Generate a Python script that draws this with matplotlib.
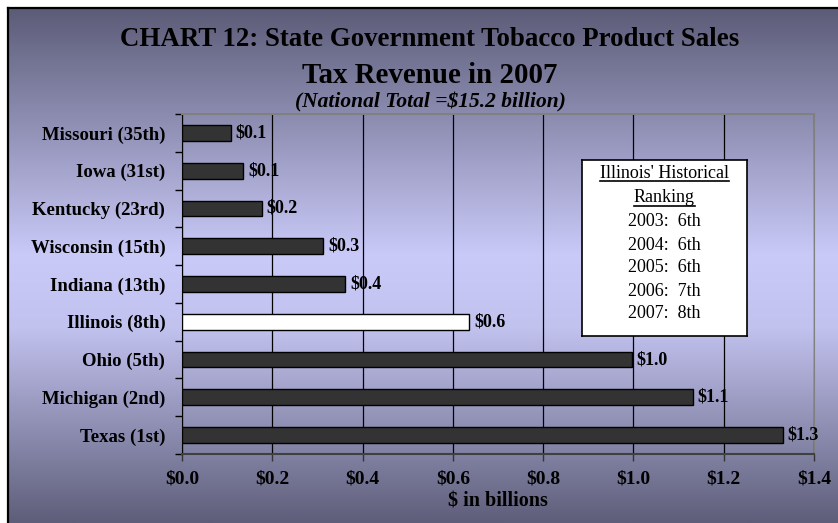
import numpy as np
import matplotlib
matplotlib.use("Agg")
import matplotlib.pyplot as plt
from matplotlib.colors import LinearSegmentedColormap
from matplotlib.lines import Line2D

# ---- data ----
states = ["Missouri (35th)", "Iowa (31st)", "Kentucky (23rd)", "Wisconsin (15th)",
          "Indiana (13th)", "Illinois (8th)", "Ohio (5th)", "Michigan (2nd)", "Texas (1st)"]
revenue = [0.108, 0.136, 0.177, 0.313, 0.362, 0.636, 0.996, 1.131, 1.331]
value_labels = ["$0.1", "$0.1", "$0.2", "$0.3", "$0.4", "$0.6", "$1.0", "$1.1", "$1.3"]
highlight = "Illinois (8th)"
x_ticks = [0.0, 0.2, 0.4, 0.6, 0.8, 1.0, 1.2, 1.4]
x_ticklabels = ["$0.0", "$0.2", "$0.4", "$0.6", "$0.8", "$1.0", "$1.2", "$1.4"]
history_title = ["Illinois' Historical", "Ranking"]
history_rows = ["2003:  6th", "2004:  6th", "2005:  6th", "2006:  7th", "2007:  8th"]

W, H = 838, 523
DPI = 100
fig = plt.figure(figsize=(W / DPI, H / DPI), dpi=DPI)
fig.patch.set_facecolor("white")

def fx(px):
    return px / W

def fy(py):
    return 1 - py / H

SERIF = ["Liberation Serif", "DejaVu Serif"]

# ---- gradient background ----
bg = fig.add_axes([fx(8), 0, 1 - fx(8), fy(8)], zorder=-5)
cmap = LinearSegmentedColormap.from_list(
    "bg", [(0.0, "#5c5c78"), (0.48, "#cacaf9"), (0.62, "#c2c2ef"), (1.0, "#5e5e7a")])
grad = np.linspace(0, 1, 256).reshape(-1, 1)
bg.imshow(grad, aspect="auto", cmap=cmap, extent=[0, 1, 1, 0])
bg.set_xticks([]); bg.set_yticks([])
for s in ["right", "bottom"]:
    bg.spines[s].set_visible(False)
for s in ["left", "top"]:
    bg.spines[s].set_linewidth(1.6)
    bg.spines[s].set_color("black")

# ---- main axes ----
left, right, top, bottom = 182, 814, 114, 454
ax = fig.add_axes([fx(left), fy(bottom), fx(right - left), (bottom - top) / H])
ax.patch.set_alpha(0)

n = len(states)
ypos = np.arange(n)
colors = ["white" if s == highlight else "#333333" for s in states]
ax.barh(ypos, revenue, height=0.42, color=colors, edgecolor="black", linewidth=1.0, zorder=3)
ax.set_ylim(n - 0.5, -0.5)
ax.set_xlim(0, 1.4)

for y, v, lab in zip(ypos, revenue, value_labels):
    ax.annotate(lab.replace("$", r"\$"), (v, y), xytext=(3.5, 0), textcoords="offset points",
                va="center", ha="left", fontsize=13, fontweight="bold",
                family=SERIF, zorder=4)

ax.set_yticks(ypos)
ax.set_yticklabels(states, fontsize=13.5, fontweight="bold", family=SERIF)
ax.tick_params(axis="y", which="major", length=0, pad=12)
ax.set_yticks(np.arange(-0.5, n, 1), minor=True)
ax.tick_params(axis="y", which="minor", length=5, width=1, direction="out", color="black")

ax.set_xticks(x_ticks)
ax.set_xticklabels([t.replace("$", r"\$") for t in x_ticklabels], fontsize=14,
                   fontweight="bold", family=SERIF)
ax.tick_params(axis="x", length=5, width=1, direction="out", color="#333333", pad=7)
ax.set_xlabel(r"\$ in billions", fontsize=14.5, fontweight="bold", family=SERIF, labelpad=3)

ax.grid(axis="x", color="black", linewidth=0.9, zorder=1)
ax.set_axisbelow(True)
ax.spines["left"].set_color("black")
ax.spines["bottom"].set_color("#404040")
ax.spines["bottom"].set_linewidth(1.5)
ax.spines["top"].set_color("#808080")
ax.spines["top"].set_linewidth(1.5)
ax.spines["right"].set_color("#808080")

# ---- titles ----
tcx = fx(430)
fig.text(tcx, fy(40), "CHART 12: State Government Tobacco Product Sales", ha="center",
         va="center", fontsize=19.4, fontweight="bold", family=SERIF)
fig.text(tcx, fy(75), "Tax Revenue in 2007", ha="center", va="center",
         fontsize=20.8, fontweight="bold", family=SERIF)
fig.text(tcx, fy(102), r"(National Total =\$15.2 billion)", ha="center", va="center",
         fontsize=15.5, fontweight="bold", style="italic", family=SERIF)

# ---- history box ----
bx0, by0, bx1, by1 = 582, 160, 747, 336
boxax = fig.add_axes([fx(bx0), fy(by1), fx(bx1 - bx0), (by1 - by0) / H], zorder=5)
boxax.set_facecolor("white")
boxax.set_xticks([]); boxax.set_yticks([])
for s in boxax.spines.values():
    s.set_linewidth(1.2)
    s.set_color("black")

cx = (bx0 + bx1) / 2
line_y = [173, 198, 221, 245, 268, 292, 314]
texts = []
for i, t in enumerate(history_title + history_rows):
    tt = fig.text(fx(cx), fy(line_y[i]), t, ha="center", va="center",
                  fontsize=13, family=SERIF, zorder=6)
    texts.append(tt)

fig.canvas.draw()
renderer = fig.canvas.get_renderer()
for tt in texts[:2]:
    bb = tt.get_window_extent(renderer)
    yb = bb.y0 + 1
    fig.add_artist(Line2D([bb.x0 / W, bb.x1 / W], [yb / H, yb / H], color="black",
                          linewidth=1.2, transform=fig.transFigure, zorder=7))

fig.savefig("out.png", dpi=DPI)
